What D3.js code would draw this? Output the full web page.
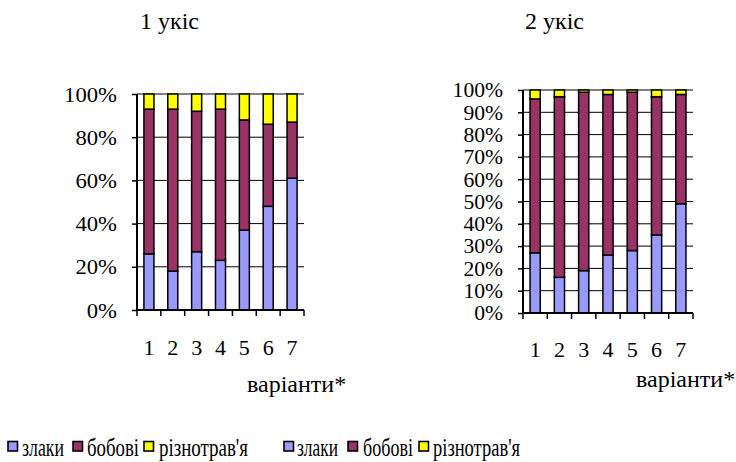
<!DOCTYPE html>
<html>
<head>
<meta charset="utf-8">
<script src="https://cdn.jsdelivr.net/npm/d3@7"></script>
<style>
  html, body { margin: 0; padding: 0; background: #fff; }
</style>
</head>
<body>
<svg id="chart" width="736" height="462"></svg>
<script>
// Botanical composition of the sward (share of each group, %), by variant
const categories = ["1", "2", "3", "4", "5", "6", "7"];
const seriesNames = ["злаки", "бобові", "різнотрав'я"];
const seriesColors = ["#9999FF", "#993366", "#FFFF00"];

// first cut
const cut1Zlaky  = [26, 18, 27, 23, 37, 48, 61];
const cut1Bobovi = [67, 75, 65, 70, 51, 38, 26];
const cut1Rizno  = [7, 7, 8, 7, 12, 14, 13];

// second cut
const cut2Zlaky  = [27, 16, 19, 26, 28, 35, 49];
const cut2Bobovi = [69, 81, 80, 72, 71, 62, 49];
const cut2Rizno  = [4, 3, 1, 2, 1, 3, 2];

const ticks1 = [0, 20, 40, 60, 80, 100];
const ticks2 = [0, 10, 20, 30, 40, 50, 60, 70, 80, 90, 100];

const titles = ["1 укіс", "2 укіс"];
const xTitle = "варіанти*";

const FONT = "Liberation Serif";
const svg = d3.select("#chart");

// stretch or squeeze a text horizontally by a factor of its natural width
function widen(sel, k) {
  sel.each(function () {
    const w = this.getComputedTextLength();
    d3.select(this).attr("textLength", w * k).attr("lengthAdjust", "spacingAndGlyphs");
  });
}

function drawPanel(cfg) {
  const rows = categories.map((c, i) => ({
    cat: c,
    [seriesNames[0]]: cfg.values[0][i],
    [seriesNames[1]]: cfg.values[1][i],
    [seriesNames[2]]: cfg.values[2][i]
  }));
  const stacked = d3.stack().keys(seriesNames)(rows);

  const x = d3.scaleBand().domain(categories).range([cfg.left, cfg.right]).paddingInner(0.58).paddingOuter(0.29);
  const xEdge = d3.scaleBand().domain(categories).range([cfg.left, cfg.right]);
  const y = d3.scaleLinear().domain([0, 100]).range([cfg.bottom, cfg.top]);

  const g = svg.append("g");

  // horizontal gridlines
  g.append("g").selectAll("line").data(cfg.ticks).join("line")
    .attr("x1", cfg.left).attr("x2", cfg.right)
    .attr("y1", d => y(d)).attr("y2", d => y(d))
    .attr("stroke", "#000").attr("stroke-width", 1);

  // stacked bars
  g.append("g").selectAll("g").data(stacked).join("g")
    .attr("fill", (d, i) => seriesColors[i])
    .selectAll("rect").data(d => d).join("rect")
    .attr("x", d => x(d.data.cat))
    .attr("width", x.bandwidth())
    .attr("y", d => y(d[1]))
    .attr("height", d => y(d[0]) - y(d[1]))
    .attr("stroke", "#000").attr("stroke-width", 1.5);

  // y axis
  const yAxis = g.append("g").attr("transform", `translate(${cfg.left},0)`)
    .call(d3.axisLeft(y).tickValues(cfg.ticks).tickFormat(d => d + "%").tickSize(5).tickPadding(15));
  yAxis.attr("font-family", FONT);
  yAxis.select(".domain").attr("stroke", "#000").attr("stroke-width", 2).attr("d", `M0,${cfg.bottom}V${cfg.top}`);
  yAxis.selectAll(".tick line").attr("stroke", "#000").attr("stroke-width", 1.5);
  yAxis.selectAll(".tick text").attr("font-size", cfg.yFont).attr("dy", "0.34em")
    .style("font-family", FONT).attr("fill", "#000").call(widen, 1.08);

  // x axis: labels at band centres, tick marks at category boundaries
  const xAxis = g.append("g").attr("transform", `translate(0,${cfg.bottom})`)
    .call(d3.axisBottom(x).tickSize(0).tickPadding(cfg.xPad));
  xAxis.attr("font-family", FONT);
  xAxis.select(".domain").attr("stroke", "#000").attr("stroke-width", 2).attr("d", `M${cfg.left},0H${cfg.right}`);
  xAxis.selectAll(".tick text").attr("font-size", 22).attr("dy", "0")
    .style("font-family", FONT).attr("fill", "#000");
  const edges = categories.map(c => xEdge(c)).concat([cfg.right]);
  g.append("g").selectAll("line").data(edges).join("line")
    .attr("x1", d => d).attr("x2", d => d)
    .attr("y1", cfg.bottom).attr("y2", cfg.bottom + 6)
    .attr("stroke", "#000").attr("stroke-width", 1.5);

  // titles
  g.append("text").attr("x", cfg.titleX).attr("y", 29).attr("font-size", 24)
    .style("font-family", FONT).text(cfg.title);
  g.append("text").attr("x", cfg.xTitleX).attr("y", cfg.xTitleY).attr("font-size", 24)
    .style("font-family", FONT).text(xTitle);

  // legend
  const lg = g.append("g");
  cfg.legend.forEach((it, i) => {
    lg.append("rect").attr("x", it.box).attr("y", 441.5).attr("width", 9.5).attr("height", 9.5)
      .attr("fill", seriesColors[i]).attr("stroke", "#000").attr("stroke-width", 1.6);
    lg.append("text").attr("x", it.text).attr("y", 456).attr("font-size", 25)
      .style("font-family", FONT).text(seriesNames[i])
      .attr("textLength", it.w).attr("lengthAdjust", "spacingAndGlyphs");
  });
}

drawPanel({
  values: [cut1Zlaky, cut1Bobovi, cut1Rizno],
  ticks: ticks1, left: 137, right: 304, top: 94, bottom: 310,
  yFont: 21, xPad: 45, title: titles[0], titleX: 140,
  xTitleX: 247, xTitleY: 392,
  legend: [{box: 8, text: 22, w: 42}, {box: 73, text: 87, w: 52}, {box: 144, text: 159, w: 89}]
});

drawPanel({
  values: [cut2Zlaky, cut2Bobovi, cut2Rizno],
  ticks: ticks2, left: 523, right: 693, top: 90, bottom: 313,
  yFont: 20, xPad: 44, title: titles[1], titleX: 525,
  xTitleX: 636, xTitleY: 387,
  legend: [{box: 284, text: 297, w: 41}, {box: 348, text: 363, w: 50}, {box: 419, text: 433, w: 87}]
});
</script>
</body>
</html>
